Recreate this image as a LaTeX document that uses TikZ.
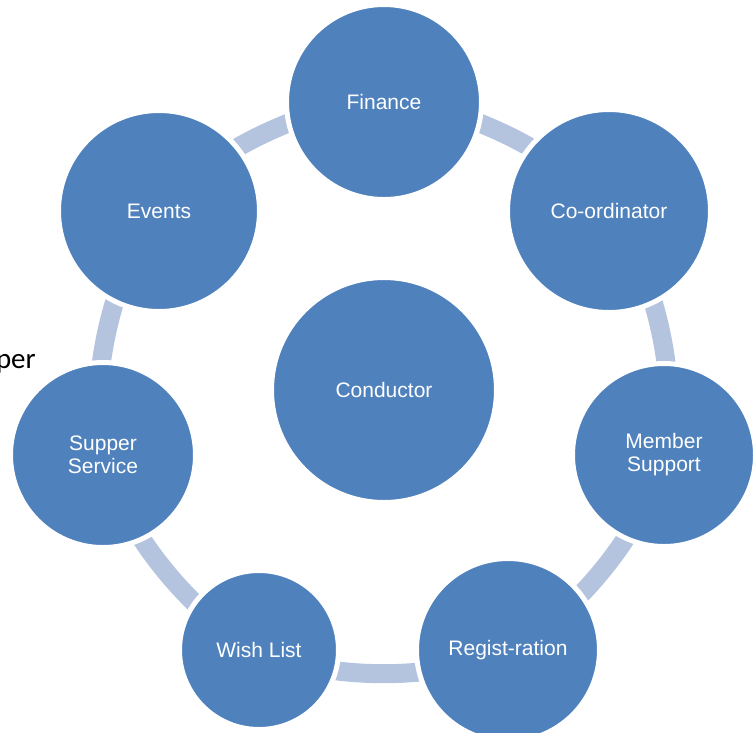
\documentclass[tikz,border=0pt]{standalone}
\usepackage{fontspec}
\setmainfont{Liberation Sans}
\newfontfamily\calibri{Carlito}
\usetikzlibrary{backgrounds}
\definecolor{cyclefill}{HTML}{4F81BD}
\definecolor{cyclering}{HTML}{B4C4DF}
\begin{document}
\begin{tikzpicture}[x=1pt, y=-1pt,
  bub/.style={circle, fill=cyclefill, draw=white, line width=5pt, text=white, align=center, inner sep=0pt, font=\fontsize{21}{23}\selectfont},
  link/.style={draw=cyclering, line width=19pt, bend left=25.7, looseness=0.75}]
\useasboundingbox (0,0) rectangle (755,732);
\node[bub, minimum size=195] (fin) at (384,102) {Finance};
\node[bub, minimum size=203] (coord) at (609,211) {Co-ordinator};
\node[bub, minimum size=183] (mem) at (664,455) {Member\\Support};
\node[bub, minimum size=183] (reg) at (508,650) {Regist-ration};
\node[bub, minimum size=159] (wish) at (259,650) {Wish List};
\node[bub, minimum size=185] (sup) at (103,455) {Supper\\Service};
\node[bub, minimum size=201] (ev) at (159,211) {Events};
\node[bub, minimum size=225] (cond) at (384,390) {Conductor};
\begin{scope}[on background layer]
\draw[link] (fin.center) to (coord.center);
\draw[link] (coord.center) to (mem.center);
\draw[link] (mem.center) to (reg.center);
\draw[link] (reg.center) to (wish.center);
\draw[link] (wish.center) to (sup.center);
\draw[link] (sup.center) to (ev.center);
\draw[link] (ev.center) to (fin.center);
\end{scope}
\node[anchor=base east, inner sep=0pt, font=\calibri\fontsize{29}{34}\selectfont] (per) at (36,368) {per};
\end{tikzpicture}
\end{document}
